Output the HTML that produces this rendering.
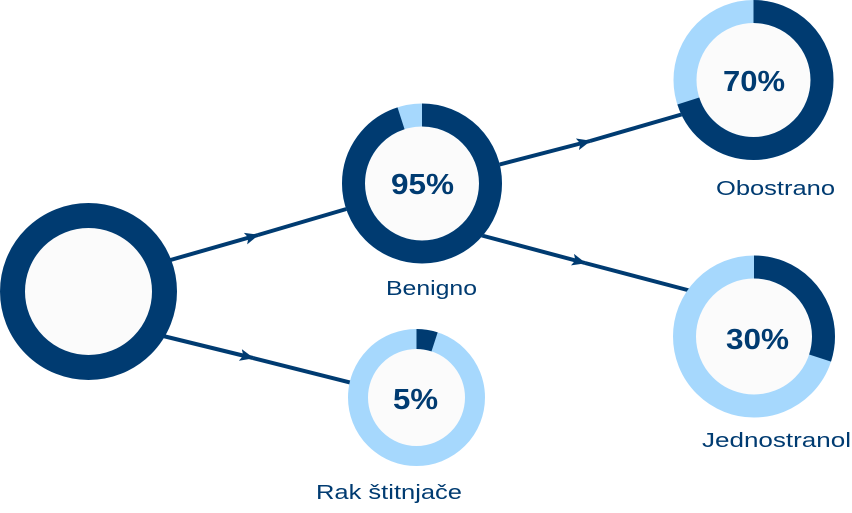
<!DOCTYPE html>
<html><head><meta charset="utf-8"><style>
html,body{margin:0;padding:0;background:#fff;}
svg{display:block;}
text{font-family:"Liberation Sans",sans-serif;fill:#003b71;}
.p{font-size:29px;font-weight:bold;}
.l{font-size:20px;}
</style></head><body>
<svg width="852" height="513" viewBox="0 0 852 513">
<defs>
<marker id="a" viewBox="0 0 14 12" refX="13" refY="6" markerWidth="14" markerHeight="12" markerUnits="userSpaceOnUse" orient="auto">
<path d="M0,0 L14,6 L0,12 L3,6 Z" fill="#003b71"/></marker>
</defs>
<g stroke="#003b71" stroke-width="4" fill="none">
<line x1="160" y1="263" x2="258" y2="235" marker-end="url(#a)"/><line x1="258" y1="235" x2="360" y2="205"/>
<line x1="155" y1="334" x2="253" y2="358" marker-end="url(#a)"/><line x1="253" y1="358" x2="360" y2="385"/>
<line x1="490" y1="167" x2="590" y2="141" marker-end="url(#a)"/><line x1="590" y1="141" x2="690" y2="112"/>
<line x1="480" y1="235" x2="585" y2="263" marker-end="url(#a)"/><line x1="585" y1="263" x2="695" y2="292"/>
</g>
<circle cx="88.5" cy="291.5" r="76" fill="#fbfbfb" stroke="#003b71" stroke-width="25"/>
<g transform="translate(422,183.5) rotate(-90)">
<circle r="68.5" fill="#fbfbfb" stroke="#a6d8fd" stroke-width="23"/>
<circle r="68.5" fill="none" stroke="#003b71" stroke-width="23" stroke-dasharray="408.9 1000"/>
</g>
<g transform="translate(416.5,397.5) rotate(-90)">
<circle r="58.5" fill="#fbfbfb" stroke="#a6d8fd" stroke-width="20"/>
<circle r="58.5" fill="none" stroke="#003b71" stroke-width="20" stroke-dasharray="18.4 1000"/>
</g>
<g transform="translate(753.5,80) rotate(-90)">
<circle r="68.5" fill="#fbfbfb" stroke="#a6d8fd" stroke-width="23"/>
<circle r="68.5" fill="none" stroke="#003b71" stroke-width="23" stroke-dasharray="301.3 1000"/>
</g>
<g transform="translate(754,336.5) rotate(-90)">
<circle r="69.5" fill="#fbfbfb" stroke="#a6d8fd" stroke-width="23"/>
<circle r="69.5" fill="none" stroke="#003b71" stroke-width="23" stroke-dasharray="131 1000"/>
</g>
<text class="p" x="391" y="194" textLength="63" lengthAdjust="spacingAndGlyphs">95%</text>
<text class="p" x="393" y="409" textLength="45" lengthAdjust="spacingAndGlyphs">5%</text>
<text class="p" x="723" y="91" textLength="62" lengthAdjust="spacingAndGlyphs">70%</text>
<text class="p" x="726" y="349" textLength="63" lengthAdjust="spacingAndGlyphs">30%</text>
<text class="l" x="386" y="295" textLength="91" lengthAdjust="spacingAndGlyphs">Benigno</text>
<text class="l" x="316" y="499" textLength="146" lengthAdjust="spacingAndGlyphs">Rak štitnjače</text>
<text class="l" x="716" y="195" textLength="119" lengthAdjust="spacingAndGlyphs">Obostrano</text>
<text class="l" x="702" y="447" textLength="149" lengthAdjust="spacingAndGlyphs">Jednostranol</text>
</svg>
</body></html>
